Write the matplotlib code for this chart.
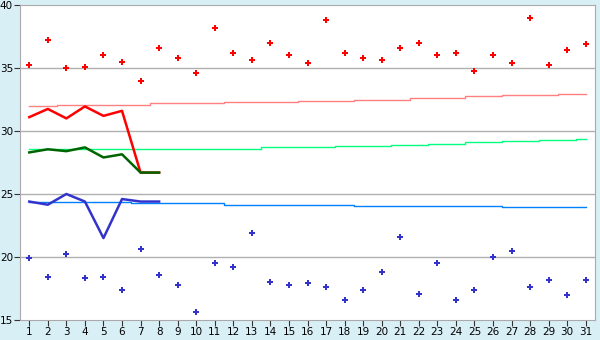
import matplotlib
matplotlib.use("Agg")
import matplotlib.pyplot as plt
import numpy as np

days = list(range(1, 32))

# record highs / lows per day
rec_max = [35.2, 37.2, 35.0, 35.1, 36.0, 35.5, 34.0, 36.6, 35.8, 34.6,
           38.2, 36.2, 35.6, 37.0, 36.0, 35.4, 38.8, 36.2, 35.8, 35.6,
           36.6, 37.0, 36.0, 36.2, 34.8, 36.0, 35.4, 39.0, 35.2, 36.4, 36.9]
rec_min = [19.9, 18.4, 20.2, 18.3, 18.4, 17.4, 20.6, 18.6, 17.8, 15.6,
           19.5, 19.2, 21.9, 18.0, 17.8, 17.9, 17.6, 16.6, 17.4, 18.8,
           21.6, 17.1, 19.5, 16.6, 17.4, 20.0, 20.5, 17.6, 18.2, 17.0, 18.2]

# normals
norm_max = [32.0]*2 + [32.1]*5 + [32.2]*4 + [32.3]*4 + [32.4]*3 + [32.5]*3 + \
           [32.6]*3 + [32.75]*2 + [32.83]*3 + [32.9]*2
norm_mean = [28.6]*13 + [28.7]*4 + [28.8]*3 + [28.9]*2 + [29.0]*2 + [29.1]*2 + \
            [29.2]*2 + [29.3]*2 + [29.4]
norm_min = [24.35]*6 + [24.25]*5 + [24.15]*7 + [24.05]*8 + [23.97]*5

# observed this month (days 1-8)
obs_days = [1, 2, 3, 4, 5, 6, 7, 8]
obs_max = [31.1, 31.75, 31.0, 31.95, 31.2, 31.6, 26.7, 26.7]
obs_mean = [28.3, 28.55, 28.4, 28.7, 27.9, 28.15, 26.7, 26.7]
obs_min = [24.4, 24.15, 25.0, 24.4, 21.5, 24.6, 24.4, 24.4]

bg = "#d9eff6"
fig = plt.figure(figsize=(6, 3.4), dpi=100, facecolor=bg)
ax = fig.add_axes([20/600, 20/340, 575/600, 315/340])
ax.set_facecolor("white")

for y in [20, 25, 30, 35]:
    ax.axhline(y, color="#b0b0b0", lw=1, zorder=1)

ax.plot(days, norm_max, color="#ff8080", lw=1, drawstyle="steps-mid", zorder=2)
ax.plot(days, norm_mean, color="#00ff80", lw=1, drawstyle="steps-mid", zorder=2)
ax.plot(days, norm_min, color="#0080ff", lw=1, drawstyle="steps-mid", zorder=2)

ax.plot(obs_days, obs_max, color="#ff0000", lw=1.8, zorder=3)
ax.plot(obs_days, obs_mean, color="#006400", lw=1.8, zorder=4)
ax.plot(obs_days, obs_min, color="#3333cc", lw=1.8, zorder=5)

ax.plot(days, rec_max, ls="none", marker="P", ms=4.5, color="#ff0000", mew=0, zorder=6)
ax.plot(days, rec_min, ls="none", marker="P", ms=4.5, color="#3333cc", mew=0, zorder=6)

ax.set_xlim(0.5, 31.5)
ax.set_ylim(15, 40)
ax.set_xticks(days)
ax.set_yticks([15, 20, 25, 30, 35, 40])
ax.tick_params(axis="both", labelsize=7.5, length=4, color="#333333", pad=1)
for s in ax.spines.values():
    s.set_color("#aaaaaa")

fig.savefig("out.png", dpi=100, facecolor=bg)
